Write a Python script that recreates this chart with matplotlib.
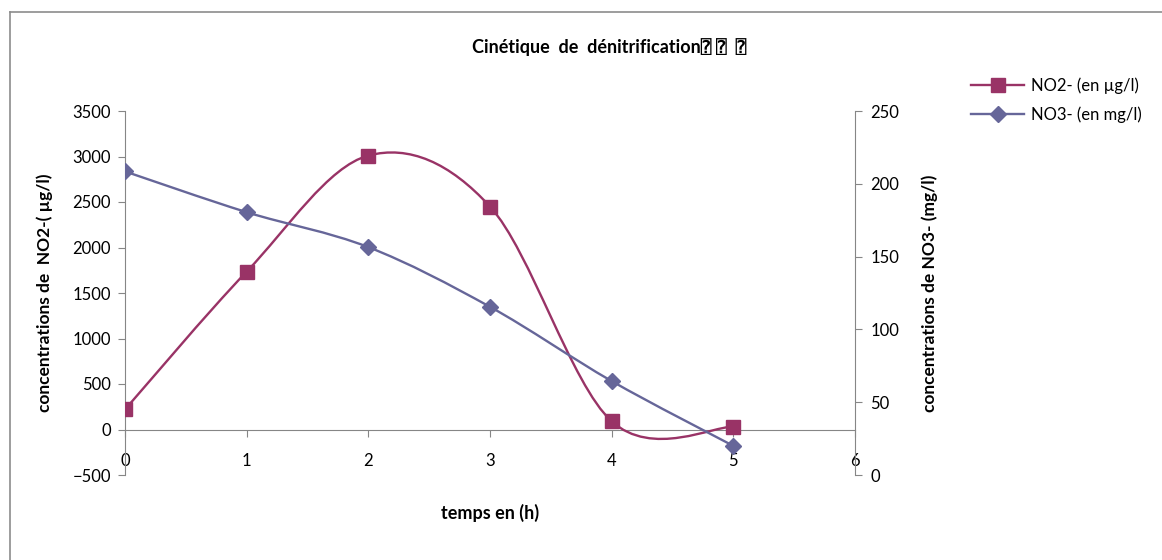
import matplotlib
matplotlib.use("Agg")
import matplotlib.pyplot as plt
import numpy as np
from matplotlib.path import Path
from matplotlib.patches import PathPatch
from matplotlib.lines import Line2D

plt.rcParams['font.family'] = ['Lato', 'DejaVu Sans', 'DejaVu Sans Mono']

# ---- data ----
hours = [0, 1, 2, 3, 4, 5]
no2_ugl = [220, 1735, 3010, 2450, 90, 30]
no3_mgl = [208.5, 180.5, 156.5, 115.5, 64.5, 20]

title = "Cinétique  de  dénitrification\u2370 \u2370  \u2370"
xlabel = "temps en (h)"
ylabel_left = "concentrations de  NO2-( µg/l)"
ylabel_right = "concentrations de NO3- (mg/l)"
label_no2 = "NO2- (en µg/l)"
label_no3 = "NO3- (en mg/l)"

c_no2 = "#993366"
c_no3 = "#666699"
axis_gray = "#868686"


def smooth_path(x, y, tension=1/6):
    x = np.asarray(x, float)
    y = np.asarray(y, float)
    pts = np.column_stack([x, y])
    n = len(pts)
    verts = [pts[0]]
    codes = [Path.MOVETO]
    for i in range(n - 1):
        p0 = pts[i - 1] if i > 0 else pts[i]
        p1 = pts[i]
        p2 = pts[i + 1]
        p3 = pts[i + 2] if i + 2 < n else pts[i + 1]
        c1 = p1 + (p2 - p0) * tension
        c2 = p2 - (p3 - p1) * tension
        verts += [c1, c2, p2]
        codes += [Path.CURVE4] * 3
    return Path(verts, codes)


fig = plt.figure(figsize=(11.62, 5.6), dpi=100)

# chart border (Excel frame)
fig.add_artist(Line2D([10/1162, 10/1162], [0, 1 - 12/560], transform=fig.transFigure,
                      color="#8c8c8c", lw=1.2))
fig.add_artist(Line2D([10/1162, 1], [1 - 12/560, 1 - 12/560], transform=fig.transFigure,
                      color="#8c8c8c", lw=1.2))

ax = fig.add_axes([125/1162, 85/560, 730/1162, 364/560])
ax2 = ax.twinx()

ax.set_xlim(0, 6)
ax.set_ylim(-500, 3500)
ax2.set_ylim(0, 250)

# NO2 on left axis
ax.add_patch(PathPatch(smooth_path(hours, no2_ugl), facecolor='none', edgecolor=c_no2,
                       lw=1.7, zorder=3))
ax.plot(hours, no2_ugl, ls='none', marker='s', ms=9.5, color=c_no2, zorder=4)

# NO3 on right axis
ax2.add_patch(PathPatch(smooth_path(hours, no3_mgl), facecolor='none', edgecolor=c_no3,
                        lw=1.7, zorder=3))
ax2.plot(hours, no3_mgl, ls='none', marker='D', ms=8.5, color=c_no3, zorder=4)

for a in (ax, ax2):
    a.spines['top'].set_visible(False)

ax2.spines['bottom'].set_visible(False)
ax.spines['right'].set_visible(False)
ax2.spines['left'].set_visible(False)
ax.spines['left'].set_color(axis_gray)
ax2.spines['right'].set_color(axis_gray)
ax.spines['bottom'].set_position(('data', 0))
ax.spines['bottom'].set_color(axis_gray)

ax.set_yticks(np.arange(-500, 3501, 500))
ax2.set_yticks(np.arange(0, 251, 50))
ax.set_xticks(range(0, 7))

ax.tick_params(axis='y', direction='out', length=5, color=axis_gray, labelsize=12, pad=5)
ax2.tick_params(axis='y', direction='out', length=5, color=axis_gray, labelsize=12, pad=6)
ax.tick_params(axis='x', direction='out', length=5, color=axis_gray, labelsize=12, pad=12)

ax.set_xlabel(xlabel, fontsize=13, fontweight='bold', labelpad=25)
ax.set_ylabel(ylabel_left, fontsize=12.5, fontweight='bold', labelpad=14)
ax2.set_ylabel(ylabel_right, fontsize=12.5, fontweight='bold', labelpad=16)

fig.text(609/1162, 1 - 47/560, title, ha='center', va='center', fontsize=13,
         fontweight='bold')

handles = [Line2D([], [], color=c_no2, marker='s', ms=9.5, lw=1.7),
           Line2D([], [], color=c_no3, marker='D', ms=8.5, lw=1.7)]
fig.legend(handles, [label_no2, label_no3], loc='upper left',
           bbox_to_anchor=(956/1162, 1 - 62/560), frameon=False, fontsize=12,
           handlelength=3.2, handletextpad=0.4, labelspacing=0.75)

fig.savefig("out.png", dpi=100)
